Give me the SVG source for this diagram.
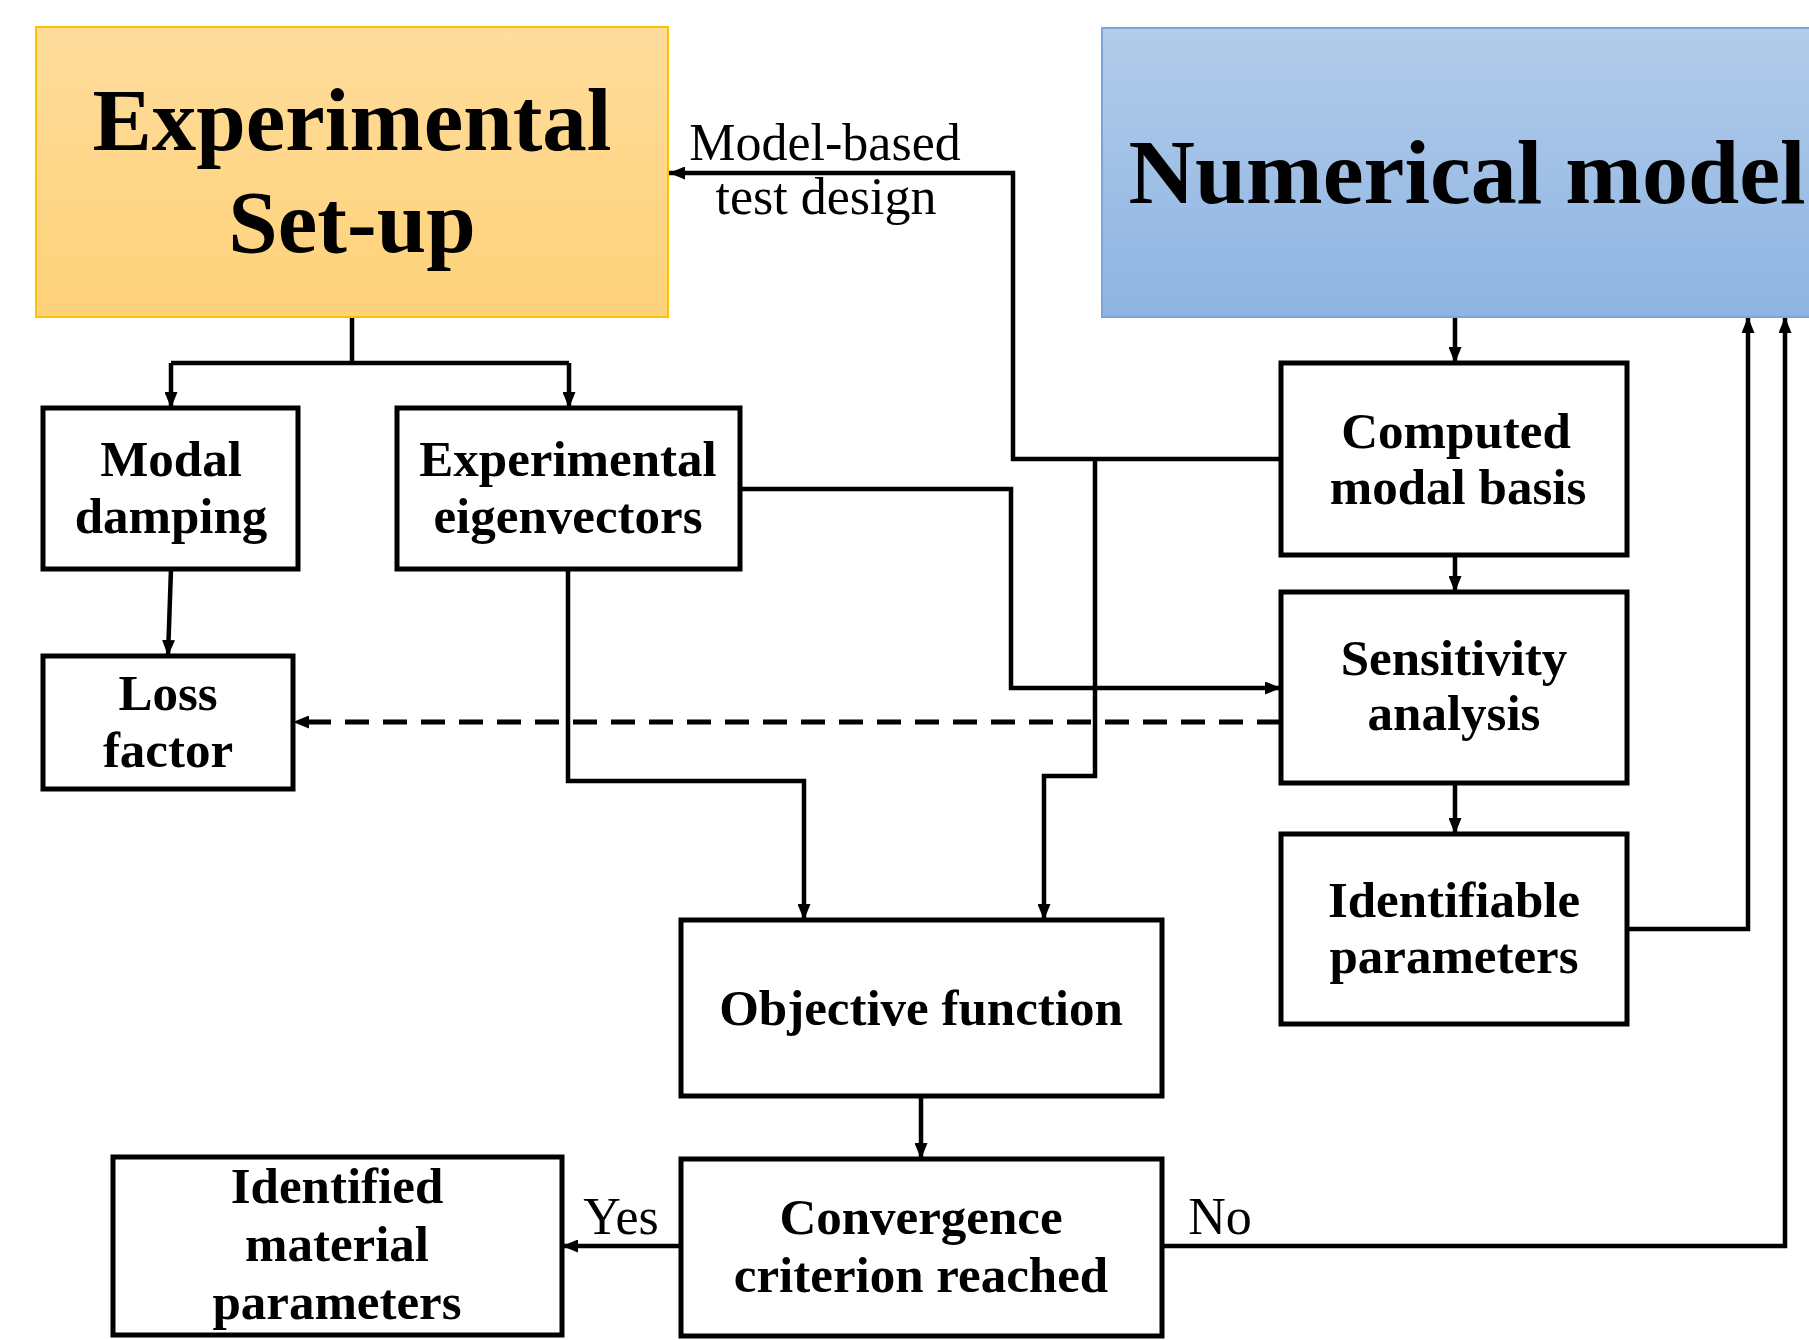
<svg xmlns="http://www.w3.org/2000/svg" width="1809" height="1340" viewBox="0 0 1809 1340">
<defs>
<linearGradient id="gOrange" x1="0" y1="0" x2="0" y2="1">
<stop offset="0" stop-color="#FEDC9B"/>
<stop offset="1" stop-color="#FED279"/>
</linearGradient>
<linearGradient id="gBlue" x1="0" y1="0" x2="0" y2="1">
<stop offset="0" stop-color="#B2CCEA"/>
<stop offset="1" stop-color="#8EB4E2"/>
</linearGradient>
<marker id="arr" markerUnits="userSpaceOnUse" markerWidth="17" markerHeight="13" refX="16" refY="6.5" orient="auto">
<path d="M0,0 L16,6.5 L0,13 z" fill="#000"/>
</marker>
<style>
.box{fill:#fff;stroke:#000;stroke-width:5}
.t{font-family:"Liberation Serif","Times New Roman",serif;font-weight:bold;font-size:51px;text-anchor:middle;fill:#000}
.big{font-family:"Liberation Serif","Times New Roman",serif;font-weight:bold;font-size:89px;text-anchor:middle;fill:#000}
.lbl{font-family:"Liberation Serif","Times New Roman",serif;font-size:52px;fill:#000}
.c{fill:none;stroke:#000;stroke-width:4.5}
.d{fill:none;stroke:#000;stroke-width:5;stroke-dasharray:24 14}
</style>
</defs>
<rect width="1809" height="1340" fill="#fff"/>

<g id="connectors">
<path class="c" d="M352,317 V363"/>
<path class="c" d="M171,363 H569"/>
<path class="c" d="M171,363 V408" marker-end="url(#arr)"/>
<path class="c" d="M569,363 V408" marker-end="url(#arr)"/>
<path class="c" d="M171,569 L168,656" marker-end="url(#arr)"/>
<path class="c" d="M740,489 H1011 V688 H1281" marker-end="url(#arr)"/>
<path class="c" d="M568,569 V781 H804 V920" marker-end="url(#arr)"/>
<path class="c" d="M1281,459 H1013 V173 H669" marker-end="url(#arr)"/>
<path class="c" d="M1095,459 V776 H1044 V920" marker-end="url(#arr)"/>
<path class="d" d="M1281,722 H293" marker-end="url(#arr)"/>
<path class="c" d="M1455,317 V363" marker-end="url(#arr)"/>
<path class="c" d="M1455,555 V592" marker-end="url(#arr)"/>
<path class="c" d="M1455,783 V834" marker-end="url(#arr)"/>
<path class="c" d="M921,1096 V1159" marker-end="url(#arr)"/>
<path class="c" d="M681,1246 H562" marker-end="url(#arr)"/>
<path class="c" d="M1627,929 H1748 V317" marker-end="url(#arr)"/>
<path class="c" d="M1162,1246 H1785 V317" marker-end="url(#arr)"/>
<text class="lbl" x="825" y="160" text-anchor="middle">Model-based</text>
<text class="lbl" x="826" y="214" text-anchor="middle">test design</text>
<text class="lbl" x="621" y="1234" text-anchor="middle">Yes</text>
<text class="lbl" x="1220" y="1234" text-anchor="middle">No</text>
</g>

<g id="experimental-setup">
<rect x="36" y="27" width="632" height="290" fill="url(#gOrange)" stroke="#FFC000" stroke-width="2"/>
<text class="big" x="352" y="150">Experimental</text>
<text class="big" x="352" y="252">Set-up</text>
</g>

<g id="numerical-model">
<rect x="1102" y="28" width="712" height="289" fill="url(#gBlue)" stroke="#7BA4DB" stroke-width="2"/>
<text class="big" x="1467" y="203" style="font-size:92px">Numerical model</text>
</g>

<g id="modal-damping">
<rect class="box" x="43" y="408" width="255" height="161"/>
<text class="t" x="171" y="476">Modal</text>
<text class="t" x="171" y="533">damping</text>
</g>

<g id="experimental-eigenvectors">
<rect class="box" x="397" y="408" width="343" height="161"/>
<text class="t" x="568" y="476">Experimental</text>
<text class="t" x="568" y="533">eigenvectors</text>
</g>

<g id="loss-factor">
<rect class="box" x="43" y="656" width="250" height="133"/>
<text class="t" x="168" y="710">Loss</text>
<text class="t" x="168" y="767">factor</text>
</g>

<g id="computed-modal-basis">
<rect class="box" x="1281" y="363" width="346" height="192"/>
<text class="t" x="1456" y="448">Computed</text>
<text class="t" x="1458" y="504">modal basis</text>
</g>

<g id="sensitivity-analysis">
<rect class="box" x="1281" y="592" width="346" height="191"/>
<text class="t" x="1454" y="675">Sensitivity</text>
<text class="t" x="1454" y="730">analysis</text>
</g>

<g id="identifiable-parameters">
<rect class="box" x="1281" y="834" width="346" height="190"/>
<text class="t" x="1454" y="917">Identifiable</text>
<text class="t" x="1454" y="973">parameters</text>
</g>

<g id="objective-function">
<rect class="box" x="681" y="920" width="481" height="176"/>
<text class="t" x="921" y="1025">Objective function</text>
</g>

<g id="convergence">
<rect class="box" x="681" y="1159" width="481" height="177"/>
<text class="t" x="921" y="1234">Convergence</text>
<text class="t" x="921" y="1292">criterion reached</text>
</g>

<g id="identified-material-parameters">
<rect class="box" x="113" y="1157" width="449" height="178"/>
<text class="t" x="337" y="1203">Identified</text>
<text class="t" x="337" y="1261">material</text>
<text class="t" x="337" y="1319">parameters</text>
</g>
</svg>
